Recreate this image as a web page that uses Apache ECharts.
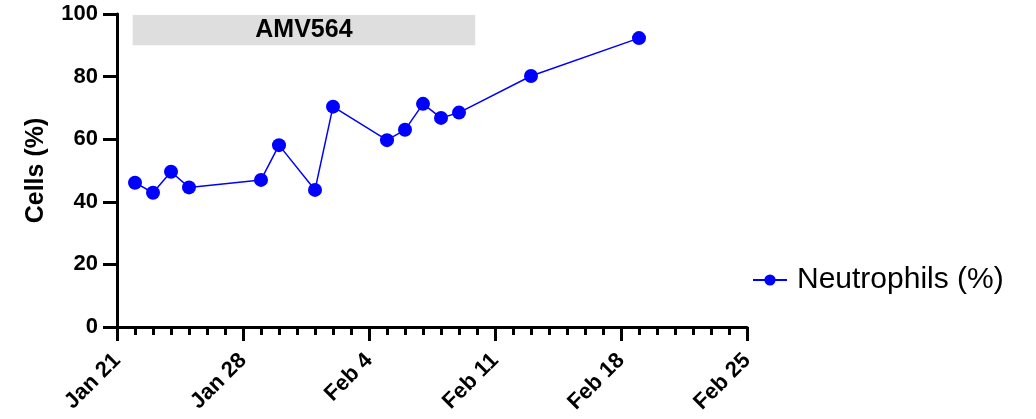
<!DOCTYPE html>
<html>
<head>
<meta charset="utf-8">
<script src="https://cdn.jsdelivr.net/npm/echarts@6/dist/echarts.min.js"></script>
<style>html,body{margin:0;padding:0;background:#fff}#c{width:1036px;height:419px}</style>
</head>
<body>
<div id="c"></div>
<script>
// Data
const dates = ["2020-01-22","2020-01-23","2020-01-24","2020-01-25","2020-01-29","2020-01-30","2020-02-01","2020-02-02","2020-02-05","2020-02-06","2020-02-07","2020-02-08","2020-02-09","2020-02-13","2020-02-19"];
const neutrophils = [46.1,42.9,49.6,44.6,47.0,58.1,43.8,70.4,59.7,63.0,71.3,66.8,68.5,80.2,92.3];
const startDate = "2020-01-21";
const xTickLabels = ["Jan 21","Jan 28","Feb 4","Feb 11","Feb 18","Feb 25"];
const yTicks = [0,20,40,60,80,100];
const bandStartDay = 0.87, bandEndDay = 19.9;
const bandLabel = "AMV564";
const seriesName = "Neutrophils (%)";

const dayMs = 86400000;
const t0 = Date.parse(startDate + "T00:00:00Z");
const dayOf = d => Math.round((Date.parse(d + "T00:00:00Z") - t0) / dayMs);
const pts = dates.map((d, i) => [dayOf(d), neutrophils[i]]);

const font = "'Liberation Sans', Arial, sans-serif";
const chart = echarts.init(document.getElementById('c'), null, {renderer: 'canvas'});
chart.setOption({
  animation: false,
  grid: {left: 117, right: 289, top: 14, bottom: 92, containLabel: false},
  legend: {
    left: 747, top: 260, itemWidth: 34, itemHeight: 14, itemGap: 10,
    textStyle: {fontFamily: font, fontSize: 30, color: '#000', padding: [0, 0, 0, 5]},
    data: [seriesName]
  },
  xAxis: {
    type: 'value', min: 0, max: 35, interval: 7,
    axisLine: {show: true, lineStyle: {color: '#000', width: 3}},
    axisTick: {show: true, length: 14, lineStyle: {color: '#000', width: 3}},
    minorTick: {show: true, splitNumber: 7, length: 8, lineStyle: {color: '#000', width: 3}},
    splitLine: {show: false},
    axisLabel: {
      rotate: 45, margin: 30, fontFamily: font, fontSize: 22, fontWeight: 'bold', color: '#000',
      formatter: v => xTickLabels[Math.round(v / 7)] || ''
    }
  },
  yAxis: {
    type: 'value', min: 0, max: 100, interval: 20,
    name: 'Cells (%)', nameLocation: 'middle', nameGap: 68,
    nameTextStyle: {fontFamily: font, fontSize: 25, fontWeight: 'bold', color: '#000'},
    axisLine: {show: true, lineStyle: {color: '#000', width: 3}},
    axisTick: {show: true, length: 14, lineStyle: {color: '#000', width: 3}},
    splitLine: {show: false},
    axisLabel: {margin: 19, fontFamily: font, fontSize: 22, fontWeight: 'bold', color: '#000',
      formatter: v => yTicks.includes(v) ? String(v) : ''}
  },
  series: [{
    name: seriesName, type: 'line', data: pts,
    symbol: 'circle', symbolSize: 14,
    lineStyle: {color: '#0000ff', width: 1.5},
    itemStyle: {color: '#0000ff'},
    markArea: {
      silent: true,
      itemStyle: {color: '#dedede'},
      label: {show: true, position: 'inside', color: '#000', fontFamily: font, fontSize: 25, fontWeight: 'bold'},
      data: [[{name: bandLabel, xAxis: bandStartDay, yAxis: 90}, {xAxis: bandEndDay, yAxis: 99.7}]]
    }
  }]
});
</script>
</body>
</html>
